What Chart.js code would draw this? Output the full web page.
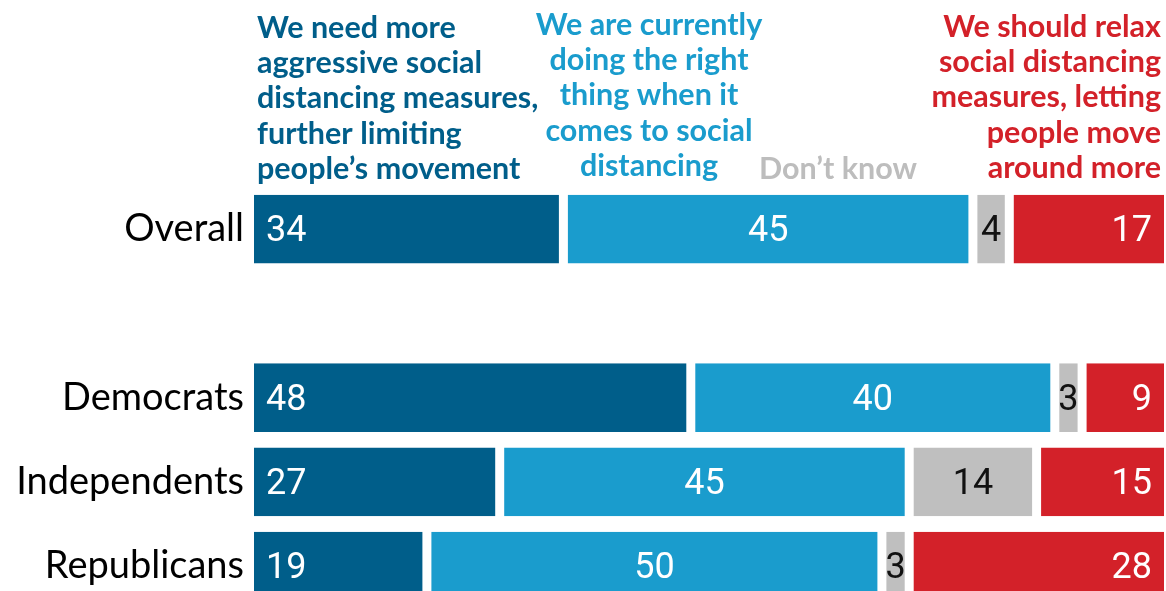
<!DOCTYPE html>
<html>
<head>
<meta charset="utf-8">
<script src="https://cdn.jsdelivr.net/npm/chart.js@4/dist/chart.umd.min.js"></script>
<style>
  html, body { margin: 0; padding: 0; background: #fff; overflow: hidden; }
  canvas { display: block; }
</style>
</head>
<body>
<canvas id="chart" width="1166" height="633"></canvas>
<script>
// 데이터
const groups = ['Overall', '', 'Democrats', 'Independents', 'Republicans'];
const moreAggressive = [34, null, 48, 27, 19];
const doingRight = [45, null, 40, 45, 50];
const dontKnow = [4, null, 3, 14, 3];
const relax = [17, null, 9, 15, 28];

const seriesNames = [
  ['We need more', 'aggressive social', 'distancing measures,', 'further limiting', 'people\u2019s movement'],
  ['We are currently', 'doing the right', 'thing when it', 'comes to social', 'distancing'],
  ['Don\u2019t know'],
  ['We should relax', 'social distancing', 'measures, letting', 'people move', 'around more']
];

const colors = ['#005E8A', '#1A9CCD', '#BFBFBF', '#D32129'];
const headerColors = ['#005E8A', '#1A9CCD', '#BDBDBD', '#D32129'];

// 막대 안 숫자 표시
const valueLabels = {
  id: 'valueLabels',
  afterDatasetsDraw(chart) {
    const ctx = chart.ctx;
    const area = chart.chartArea;
    ctx.save();
    ctx.font = '36px Roboto';
    ctx.textBaseline = 'middle';
    chart.data.datasets.forEach((ds, i) => {
      const meta = chart.getDatasetMeta(i);
      meta.data.forEach((bar, j) => {
        const v = ds.data[j];
        if (v == null) return;
        const left = Math.min(bar.x, bar.base);
        const right = Math.min(Math.max(bar.x, bar.base), area.right);
        ctx.fillStyle = i === 2 ? '#111' : '#fff';
        if (i === 0) {
          ctx.textAlign = 'left';
          ctx.fillText(v, left + 12, bar.y + 3);
        } else if (i === 3) {
          ctx.textAlign = 'right';
          ctx.fillText(v, right - 12, bar.y + 3);
        } else {
          ctx.textAlign = 'center';
          ctx.fillText(v, (left + right) / 2, bar.y + 3);
        }
      });
    });
    ctx.restore();
  }
};

// 위쪽 범례 텍스트
const headerLabels = {
  id: 'headerLabels',
  afterDraw(chart) {
    const ctx = chart.ctx;
    ctx.save();
    ctx.font = 'bold 30.5px Lato';
    ctx.textBaseline = 'middle';
    const spec = [
      { x: 257, y: 28, align: 'left' },
      { x: 649, y: 25, align: 'center' },
      { x: 838, y: 169, align: 'center' },
      { x: 1161, y: 27, align: 'right' }
    ];
    seriesNames.forEach((lines, i) => {
      ctx.fillStyle = headerColors[i];
      ctx.textAlign = spec[i].align;
      lines.forEach((t, k) => {
        ctx.fillText(t, spec[i].x, spec[i].y + k * 35.3);
      });
    });
    ctx.restore();
  }
};

function border(i) {
  const w = 4.5;
  return { top: 0, bottom: 0, left: i === 0 ? 0 : w, right: i === 3 ? 0 : w };
}

const datasets = [moreAggressive, doingRight, dontKnow, relax].map((d, i) => ({
  label: seriesNames[i].join(' '),
  data: d,
  backgroundColor: colors[i],
  borderColor: '#ffffff',
  borderWidth: border(i),
  borderSkipped: false,
  barPercentage: 0.815,
  categoryPercentage: 1
}));

new Chart(document.getElementById('chart'), {
  type: 'bar',
  data: { labels: groups, datasets: datasets },
  options: {
    indexAxis: 'y',
    responsive: false,
    animation: false,
    layout: { padding: { top: 187, right: 2, bottom: 0, left: 0 } },
    plugins: {
      legend: { display: false },
      tooltip: { enabled: false }
    },
    scales: {
      x: {
        stacked: true,
        min: 0,
        max: 100,
        display: false
      },
      y: {
        stacked: true,
        grid: { display: false },
        border: { display: false },
        ticks: {
          color: '#000',
          font: { family: 'Lato', size: 38 },
          padding: 2
        },
        afterFit(scale) { scale.width = 254; }
      }
    }
  },
  plugins: [valueLabels, headerLabels]
});
</script>
</body>
</html>
